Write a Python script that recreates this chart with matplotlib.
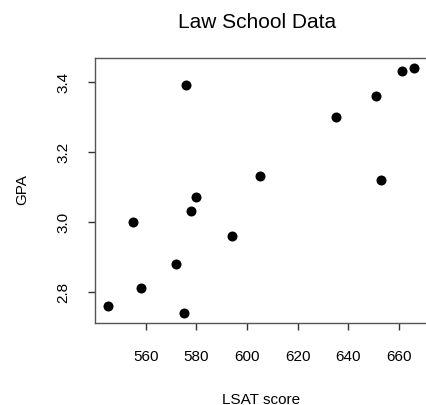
import matplotlib
matplotlib.use("Agg")
import matplotlib.pyplot as plt

lsat = [576, 635, 558, 578, 666, 580, 555, 661, 651, 605, 653, 575, 545, 572, 594]
gpa = [3.39, 3.30, 2.81, 3.03, 3.44, 3.07, 3.00, 3.43, 3.36, 3.13, 3.12, 2.74, 2.76, 2.88, 2.96]
xticks = [560, 580, 600, 620, 640, 660]
yticks = [2.8, 3.0, 3.2, 3.4]
title = "Law School Data"
xlabel = "LSAT score"
ylabel = "GPA"

plt.rcParams['font.family'] = ['Liberation Sans', 'DejaVu Sans']
W, H = 426, 406
fig = plt.figure(figsize=(W / 100, H / 100), dpi=100)
l, r, t, b = 95.4, 426.5, 58.9, 323.5
ax = fig.add_axes([l / W, 1 - b / H, (r - l) / W, (b - t) / H])
ax.scatter(lsat, gpa, s=52, color='black', linewidths=0, zorder=3)

xr = max(lsat) - min(lsat)
yr = max(gpa) - min(gpa)
ax.set_xlim(min(lsat) - 0.04 * xr, max(lsat) + 0.04 * xr)
ax.set_ylim(min(gpa) - 0.04 * yr, max(gpa) + 0.04 * yr)
ax.set_xticks(xticks)
ax.set_xticklabels([str(v) for v in xticks])
ax.set_yticks(yticks)
ax.set_yticklabels([f"{v:.1f}" for v in yticks], rotation=90, va='center')
ax.tick_params(axis='both', length=5, width=1, color='#333333', labelsize=11)
ax.tick_params(axis='x', pad=14)
ax.tick_params(axis='y', pad=13)
for s in ax.spines.values():
    s.set_color('#555555')
    s.set_linewidth(1)

fig.text(257 / W, 1 - 28.3 / H, title, ha='center', va='baseline', fontsize=15)
fig.text(261 / W, 1 - 400 / H, xlabel, ha='center', va='center', fontsize=11)
fig.text(22 / W, 1 - 190 / H, ylabel, ha='center', va='center', fontsize=11, rotation=90)

fig.savefig("out.png", dpi=100)
